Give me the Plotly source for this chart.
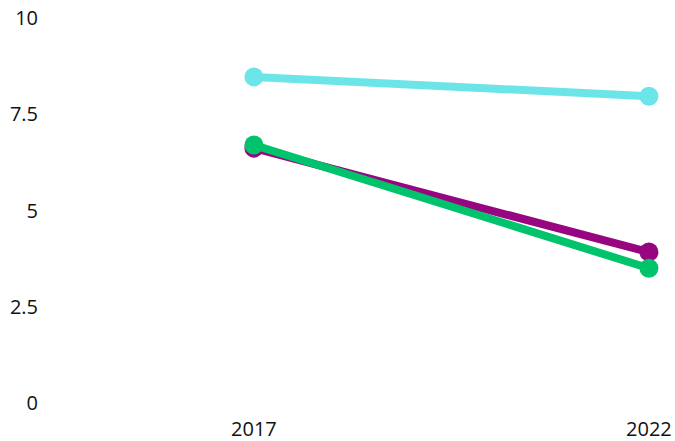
import plotly.graph_objects as go

years = [2017, 2022]
cyan_vals = [8.47, 7.97]
purple_vals = [6.62, 3.92]
green_vals = [6.7, 3.5]

series = [
    ("cyan", cyan_vals, "#6ce5e8"),
    ("purple", purple_vals, "#970581"),
    ("green", green_vals, "#00c36b"),
]

fig = go.Figure()
for name, vals, col in series:
    fig.add_trace(go.Scatter(x=years, y=vals, mode="lines+markers", name=name,
                             line=dict(color=col, width=8),
                             marker=dict(color=col, size=19)))

fig.update_layout(
    width=675, height=441,
    margin=dict(l=39, r=0, t=18, b=38),
    plot_bgcolor="white", paper_bgcolor="white",
    showlegend=False,
    font=dict(family="Open Sans", size=20, color="#111111"),
)
fig.update_xaxes(range=[2014.28, 2022.33], tickvals=years, ticktext=["2017", "2022"],
                 showgrid=False, zeroline=False, showline=False,
                 ticklabelstandoff=12, ticklabeloverflow="allow")
fig.update_yaxes(range=[0, 10], tickvals=[0, 2.5, 5, 7.5, 10],
                 showgrid=False, zeroline=False, showline=False,
                 ticklabeloverflow="allow")

# drop the default body margin so the figure fills the window
js = '''document.body.style.margin = "0"; document.body.style.overflow = "hidden";'''
fig.write_html("out.html", post_script=[js], config={"displayModeBar": False})
